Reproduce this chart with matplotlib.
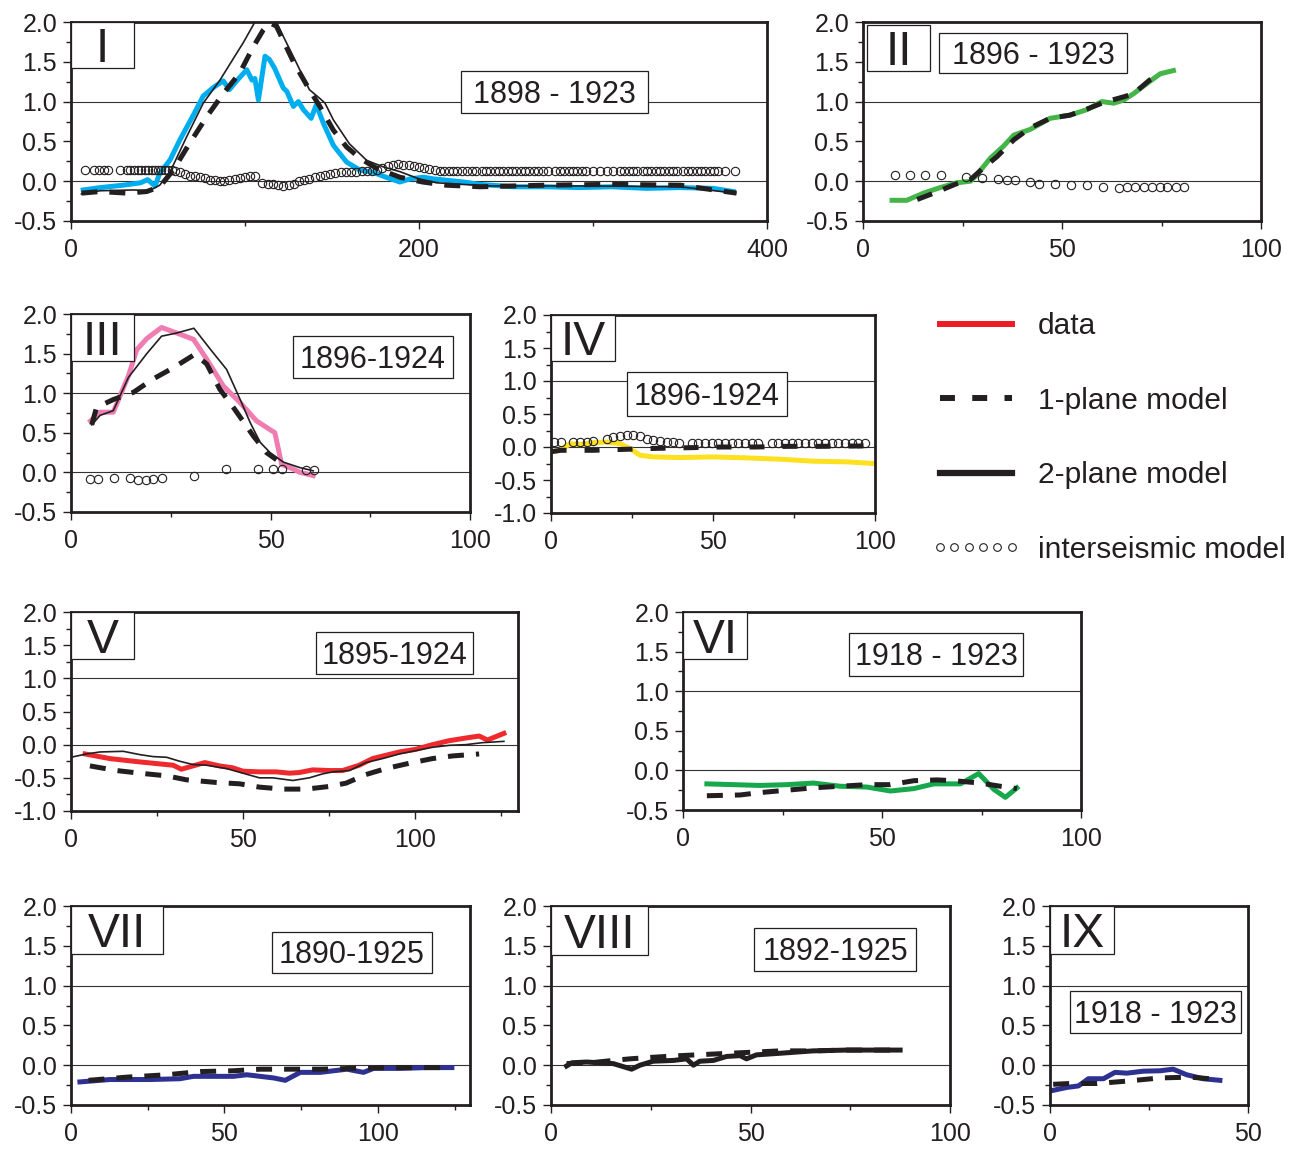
import matplotlib
matplotlib.use("Agg")
import matplotlib.pyplot as plt
from matplotlib.patches import Rectangle
from matplotlib.lines import Line2D
from matplotlib.ticker import MultipleLocator, FormatStrFormatter

# ---- panel I (1898 - 1923) ----
p1_data_x = [7, 17, 30, 40, 44, 48.3, 51, 57, 62.6, 70.3, 76, 82, 87.5, 91, 96, 101, 104, 105.7,
             107.7, 111.5, 114, 117, 122, 124, 127.8, 130.7, 133.5, 138, 141, 145, 150.8, 158.4,
             166, 173.8, 181, 189, 195, 202.5, 208, 225.5, 235, 254, 273, 292, 311, 331, 350, 369, 380.6]
p1_data_y = [-0.11, -0.08, -0.05, -0.02, 0.02, -0.06, 0.1, 0.27, 0.52, 0.83, 1.07, 1.18, 1.26, 1.15,
             1.28, 1.40, 1.27, 1.29, 1.02, 1.57, 1.53, 1.42, 1.17, 1.13, 0.94, 1.0, 0.9, 0.79, 0.96,
             0.73, 0.45, 0.24, 0.14, 0.11, 0.05, -0.01, 0.03, 0.05, 0.03, -0.01, -0.04, -0.07, -0.07,
             -0.08, -0.07, -0.09, -0.08, -0.09, -0.13]
p1_one_x = [6, 16.7, 32, 43.5, 51, 58.8, 68, 78, 87.5, 97, 104.8, 110.5, 114, 118, 127.8, 137, 143,
            150.8, 158.4, 166, 175.7, 183, 189, 202, 215.6, 235, 273, 311, 350, 382.5]
p1_one_y = [-0.15, -0.13, -0.15, -0.13, -0.07, 0.14, 0.47, 0.81, 1.1, 1.36, 1.69, 1.9, 1.99, 1.95,
            1.5, 1.15, 0.94, 0.64, 0.43, 0.29, 0.16, 0.1, 0.05, -0.01, -0.05, -0.07, -0.05, -0.04,
            -0.05, -0.15]
p1_two_x = [6, 16.7, 36, 45, 51, 57, 66.5, 76, 85.6, 93, 99, 105.7, 111, 115, 118, 122, 129.7, 137,
            143, 146, 150.8, 160, 170, 179.5, 189, 200, 210, 240, 300, 350, 382]
p1_two_y = [-0.16, -0.12, -0.11, -0.12, -0.05, 0.12, 0.56, 0.98, 1.27, 1.53, 1.74, 2.0, 2.15, 2.12,
            2.0, 1.82, 1.48, 1.15, 1.04, 0.98, 0.77, 0.47, 0.26, 0.18, 0.12, 0.03, -0.02, -0.06,
            -0.06, -0.07, -0.15]
p1_int_x = [8, 13, 16, 19, 21.5, 28, 32, 34, 36, 38.5, 40.5, 42.5, 44.5, 46.5, 48.5, 50, 52, 54, 56,
            58, 60, 62.5, 65.5, 68.5, 71, 74, 77, 80, 83, 85.5, 88, 91, 94, 97, 100, 103, 106, 110,
            113, 116, 119, 122, 125, 128, 131, 134, 137, 140, 143, 146, 149, 152, 155, 158, 161, 164,
            167, 170, 173, 176, 179, 182, 185, 188, 191, 194, 197, 200, 203, 206, 209, 212, 214.5,
            217, 219.5, 222, 224.5, 227.5, 230.5, 233, 236, 238.5, 241, 243.5, 246, 248.5, 251, 253.5,
            256, 258.5, 261, 263.5, 266, 268.5, 271, 274, 278, 281, 283.5, 286, 288.5, 291, 293.5,
            296, 300, 304, 308, 311.5, 315.5, 318, 320.5, 323, 325.5, 328.5, 331, 333.5, 336, 338.5,
            341, 343.5, 346, 348.5, 352, 354.5, 357, 359.5, 362, 364.5, 367, 369.5, 372, 376, 381.5]
p1_int_y = [0.14] * 20 + [0.13, 0.11, 0.09, 0.07, 0.06, 0.05, 0.04, 0.02, 0.01, 0.0, 0.0, 0.01,
            0.03, 0.04, 0.05, 0.06, 0.06, -0.02, -0.03, -0.04, -0.05, -0.06, -0.05, -0.03, 0.0,
            0.02, 0.03, 0.05, 0.06, 0.08, 0.09, 0.1, 0.11, 0.12, 0.12, 0.12, 0.13, 0.13, 0.13, 0.14,
            0.16, 0.19, 0.2, 0.21, 0.2, 0.2, 0.19, 0.18, 0.17, 0.15, 0.14] + [0.13] * 62

# ---- panel II (1896 - 1923) ----
p2_data_x = [7.3, 11, 15.2, 19.4, 23.6, 27, 28.6, 32, 35.3, 37.9, 42, 47, 52, 56.3, 60, 63, 65.5,
             68, 71.4, 74.7, 78]
p2_data_y = [-0.24, -0.24, -0.15, -0.08, -0.02, 0.0, 0.08, 0.29, 0.44, 0.58, 0.65, 0.79, 0.83, 0.9,
             1.0, 0.98, 1.02, 1.1, 1.23, 1.35, 1.39]
p2_one_x = [13.6, 17.8, 23.6, 27, 30.3, 33.7, 37.9, 42, 47, 52, 57, 60.5, 65.5, 68, 72, 74.7]
p2_one_y = [-0.23, -0.15, -0.03, 0.02, 0.17, 0.31, 0.52, 0.67, 0.79, 0.83, 0.92, 0.99, 1.06, 1.1,
            1.27, 1.35]
p2_int_x = [8.1, 11.9, 15.7, 19.6, 25.8, 30, 34, 36.2, 38.1, 42, 44.1, 48.3, 52.3, 56.3, 60.3, 64.2,
            66.3, 68.4, 70.5, 72.6, 74.5, 76.5, 78.6, 80.7]
p2_int_y = [0.075, 0.075, 0.08, 0.075, 0.05, 0.04, 0.03, 0.02, 0.01, -0.01, -0.03, -0.04, -0.05,
            -0.05, -0.07, -0.08, -0.075, -0.075, -0.075, -0.075, -0.075, -0.075, -0.075, -0.075]

# ---- panel III (1896-1924) ----
p3_data_x = [4.9, 7.3, 10.6, 14.4, 16.5, 19, 22.7, 26.5, 30.7, 34, 38.2, 42.4, 46.5, 51.1, 52.8,
             54.9, 57.4, 60.7]
p3_data_y = [0.65, 0.76, 0.76, 1.22, 1.55, 1.69, 1.83, 1.76, 1.68, 1.43, 1.09, 0.88, 0.65, 0.5, 0.1,
             0.06, 0.0, -0.04]
p3_two_x = [5.2, 7.3, 10.6, 14.4, 19, 22.7, 26.5, 30.8, 35, 39, 42.4, 44.9, 47.4, 49.9, 53.2, 57.4,
            60.7]
p3_two_y = [0.6, 0.72, 0.78, 1.2, 1.5, 1.72, 1.76, 1.82, 1.55, 1.3, 0.92, 0.63, 0.38, 0.25, 0.13,
            0.06, 0.02]
p3_one_x = [5.2, 6.4, 10.6, 15.6, 20.6, 25.6, 31, 34, 37.3, 40.7, 45.7, 49, 51.5]
p3_one_y = [0.6, 0.82, 0.92, 1.01, 1.18, 1.32, 1.49, 1.37, 1.05, 0.82, 0.46, 0.25, 0.16]
p3_int_x = [4.8, 6.7, 10.8, 14.8, 16.7, 18.7, 20.6, 22.7, 30.8, 38.8, 46.8, 50.7, 52.8, 58.9, 61]
p3_int_y = [-0.08, -0.08, -0.075, -0.07, -0.09, -0.09, -0.08, -0.075, -0.04, 0.04, 0.04, 0.04,
            0.04, 0.03, 0.03]

# ---- panel IV (1896-1924) ----
p4_data_x = [0.2, 2.8, 5.9, 9, 13, 17.2, 21.3, 24.4, 27.5, 31.6, 39.8, 50, 60.4, 70.7, 81, 91.3, 99.5]
p4_data_y = [-0.075, -0.05, 0.05, 0.035, 0.065, 0.075, 0.05, -0.025, -0.125, -0.15, -0.16, -0.15,
             -0.165, -0.185, -0.215, -0.225, -0.25]
p4_one_x = [0.2, 3, 13, 23, 33, 43, 53, 63, 73, 83, 93, 98]
p4_one_y = [-0.07, -0.05, -0.05, -0.035, -0.02, -0.01, 0.0, 0.0, 0.01, 0.01, 0.015, 0.015]
p4_int_x = [0.9, 3.1, 6.9, 9, 11, 13.1, 17.2, 19.2, 21.3, 23.4, 25.4, 27.5, 29.5, 31.6, 33.6, 35.7,
            37.8, 39.6, 43.4, 45.5, 47.5, 49.6, 51.6, 53.7, 55.8, 57.8, 59.9, 61.9, 64, 68.1, 70.2,
            72.2, 74.3, 76.3, 78.4, 80.5, 82.5, 84.6, 86.6, 88.7, 90.7, 92.8, 94.9, 96.9]
p4_int_y = [0.075, 0.075, 0.07, 0.075, 0.075, 0.085, 0.125, 0.15, 0.165, 0.185, 0.175, 0.16, 0.125,
            0.1, 0.085, 0.075, 0.075] + [0.065] * 27

# ---- panel V (1895-1924) ----
p5_data_x = [4.1, 11.3, 20, 29.7, 32.1, 35.5, 38.9, 43.2, 47.1, 50, 54.8, 59.7, 63.5, 66.4, 70.3,
             75.1, 79, 83.8, 87.7, 91.6, 95.5, 100.3, 105.1, 110, 114.8, 118.7, 121.1, 123.5, 125.9]
p5_data_y = [-0.14, -0.21, -0.26, -0.31, -0.37, -0.32, -0.27, -0.32, -0.35, -0.4, -0.41, -0.41,
             -0.43, -0.42, -0.38, -0.39, -0.39, -0.31, -0.21, -0.16, -0.11, -0.07, 0.0, 0.06, 0.1,
             0.13, 0.07, 0.12, 0.17]
p5_two_x = [0, 4.5, 8.4, 15.2, 20, 23.9, 27.8, 31.6, 35.5, 39.4, 45.2, 50, 54.8, 58.7, 64.5, 69.3,
            73.2, 76.1, 81, 85.8, 90.6, 95.5, 100.3, 105.1, 110, 114.8, 119.6, 125.9]
p5_two_y = [-0.19, -0.14, -0.11, -0.1, -0.15, -0.18, -0.19, -0.25, -0.3, -0.31, -0.36, -0.43, -0.5,
            -0.5, -0.54, -0.5, -0.44, -0.41, -0.39, -0.27, -0.21, -0.14, -0.09, -0.04, -0.01, 0.0,
            0.03, 0.05]
p5_one_x = [5.5, 13.2, 20, 27.8, 33.6, 42.3, 49, 54.8, 61.6, 68.4, 75.1, 80, 85.8, 91.6, 98.4, 105.1,
            110.9, 118.7]
p5_one_y = [-0.32, -0.39, -0.43, -0.47, -0.53, -0.57, -0.59, -0.64, -0.67, -0.67, -0.63, -0.58,
            -0.45, -0.36, -0.28, -0.21, -0.17, -0.14]

# ---- panel VI (1918 - 1923) ----
p6_data_x = [6, 12.7, 19.4, 26.1, 32.8, 39.5, 46.2, 52.1, 58, 63, 69.7, 74.3, 78.1, 81, 83.9]
p6_data_y = [-0.17, -0.18, -0.19, -0.18, -0.16, -0.2, -0.21, -0.26, -0.23, -0.17, -0.17, -0.04,
             -0.24, -0.34, -0.22]
p6_one_x = [6, 14.4, 19.4, 26.1, 32.8, 39.5, 46.2, 52.1, 58, 63.8, 68, 74.7, 79.7, 83.9]
p6_one_y = [-0.32, -0.31, -0.28, -0.25, -0.22, -0.2, -0.18, -0.18, -0.13, -0.12, -0.13, -0.16,
            -0.2, -0.23]

# ---- panel VII (1890-1925) ----
p7_data_x = [2.9, 12.7, 25.8, 35.5, 39.9, 48.6, 52.9, 57.3, 61.6, 66, 69.8, 74.7, 81.2, 89.9, 95.3,
             98.6, 107.3, 116, 124.1]
p7_data_y = [-0.21, -0.18, -0.18, -0.17, -0.14, -0.14, -0.14, -0.12, -0.14, -0.16, -0.19, -0.09,
             -0.09, -0.05, -0.09, -0.04, -0.04, -0.03, -0.03]
p7_one_x = [5.7, 18.2, 31.2, 42.1, 52.9, 61.6, 71.4, 81.2, 92, 103, 113.8, 123.6]
p7_one_y = [-0.19, -0.15, -0.12, -0.08, -0.07, -0.05, -0.05, -0.05, -0.04, -0.03, -0.03, -0.03]

# ---- panel VIII (1892-1925) ----
p8_data_x = [3.9, 5.2, 8.9, 15.6, 20.2, 22.3, 25.6, 30.7, 34, 35.7, 37.3, 40.7, 44, 47.4, 49, 51.5,
             57.4, 65.7, 74.1, 87.5]
p8_data_y = [-0.01, 0.03, 0.04, 0.02, -0.05, 0.0, 0.05, 0.06, 0.08, 0.0, 0.05, 0.06, 0.11, 0.12,
             0.08, 0.13, 0.15, 0.18, 0.19, 0.19]
p8_one_x = [3.9, 9.8, 15.6, 19.8, 25.6, 32.3, 40.7, 49, 57.4, 65.7, 74.1, 87.5]
p8_one_y = [0.02, 0.03, 0.06, 0.08, 0.1, 0.12, 0.14, 0.16, 0.18, 0.18, 0.19, 0.19]

# ---- panel IX (1918 - 1923) ----
p9_data_x = [0.4, 4.2, 7.2, 9.7, 13.5, 16.4, 19.4, 23.6, 27.8, 31.1, 34.5, 38.7, 42.9]
p9_data_y = [-0.32, -0.28, -0.26, -0.17, -0.17, -0.09, -0.1, -0.075, -0.07, -0.05, -0.12, -0.17, -0.19]
p9_one_x = [0.8, 5, 11.8, 19.4, 27.8, 35.4, 40.4]
p9_one_y = [-0.24, -0.23, -0.23, -0.2, -0.16, -0.15, -0.17]

legend_labels = ["data", "1-plane model", "2-plane model", "interseismic model"]

W, H, DPI = 1301, 1149, 100
INK = "#231F20"
TICK_FS = 18
LW = 3.6

plt.rcParams["font.family"] = ["Liberation Sans", "DejaVu Sans"]
plt.rcParams["axes.unicode_minus"] = False

fig = plt.figure(figsize=(W / DPI, H / DPI), dpi=DPI)


def panel(box, xlim, ylim, xmajor, xminor):
    l, t, r, b = box
    ax = fig.add_axes([l / W, 1 - b / H, (r - l) / W, (b - t) / H])
    ax.set_xlim(*xlim)
    ax.set_ylim(*ylim)
    ax.xaxis.set_major_locator(MultipleLocator(xmajor))
    ax.xaxis.set_minor_locator(MultipleLocator(xminor))
    ax.yaxis.set_major_locator(MultipleLocator(0.5))
    ax.yaxis.set_minor_locator(MultipleLocator(0.25))
    ax.yaxis.set_major_formatter(FormatStrFormatter("%.1f"))
    ax.tick_params(which="major", direction="out", length=6, width=1.0, color=INK,
                   labelsize=TICK_FS, labelcolor=INK, pad=4)
    ax.tick_params(axis="x", which="major", pad=6)
    ax.tick_params(which="minor", direction="out", length=3.5, width=1.0, color=INK)
    for s in ax.spines.values():
        s.set_linewidth(2.0)
        s.set_color(INK)
    ax.axhline(0, color="#333333", lw=0.8, zorder=1)
    ax.axhline(1, color="#333333", lw=0.8, zorder=1)
    return ax


def data_line(ax, x, y, color):
    ax.plot(x, y, color=color, lw=LW, zorder=2, solid_joinstyle="round")


def two_plane(ax, x, y):
    ax.plot(x, y, color=INK, lw=1.2, zorder=3)


def one_plane(ax, x, y, dashes=(3.2, 2.4)):
    ax.plot(x, y, color=INK, lw=LW, dashes=dashes, zorder=4)


def interseismic(ax, x, y):
    ax.plot(x, y, ls="none", marker="o", ms=6, mfc="none", mec=INK, mew=0.8, zorder=5)


def label_box(x0, y0, x1, y1, text, size):
    fig.add_artist(Rectangle((x0 / W, 1 - y1 / H), (x1 - x0) / W, (y1 - y0) / H,
                             transform=fig.transFigure, facecolor="white",
                             edgecolor=INK, lw=0.9, zorder=5))
    cap = 0.716 * size * DPI / 72
    yb = (y0 + y1) / 2 + cap / 2
    fig.text((x0 + x1) / 2 / W, 1 - yb / H, text, ha="center", va="baseline",
             fontsize=size, color=INK, zorder=6)


ROMAN_FS = 34.5
YEAR_FS = 22

# I
ax = panel((71, 22, 767, 221), (0, 400), (-0.5, 2.0), 200, 100)
interseismic(ax, p1_int_x, p1_int_y)
two_plane(ax, p1_two_x, p1_two_y)
data_line(ax, p1_data_x, p1_data_y, "#00AEEF")
one_plane(ax, p1_one_x, p1_one_y)
label_box(71, 22, 134, 68, "I", ROMAN_FS)
label_box(461, 71, 648, 113, "1898 - 1923", YEAR_FS)

# II
ax = panel((863, 22, 1261, 221), (0, 100), (-0.5, 2.0), 50, 25)
interseismic(ax, p2_int_x, p2_int_y)
data_line(ax, p2_data_x, p2_data_y, "#46B549")
one_plane(ax, p2_one_x, p2_one_y)
label_box(867, 25, 930, 71, "II", ROMAN_FS)
label_box(939, 33, 1127, 73, "1896 - 1923", YEAR_FS)

# III
ax = panel((71, 314, 470, 512), (0, 100), (-0.5, 2.0), 50, 25)
interseismic(ax, p3_int_x, p3_int_y)
data_line(ax, p3_data_x, p3_data_y, "#F07DB1")
two_plane(ax, p3_two_x, p3_two_y)
one_plane(ax, p3_one_x, p3_one_y)
label_box(71, 314, 134, 361, "III", ROMAN_FS)
label_box(293, 336, 453, 378, "1896-1924", YEAR_FS)

# IV
ax = panel((551, 315, 875, 513), (0, 100), (-1.0, 2.0), 50, 25)
interseismic(ax, p4_int_x, p4_int_y)
data_line(ax, p4_data_x, p4_data_y, "#FDE120")
one_plane(ax, p4_one_x, p4_one_y, dashes=(3.0, 3.6))
label_box(551, 315, 615, 361, "IV", ROMAN_FS)
label_box(627, 372, 787, 416, "1896-1924", YEAR_FS)

# V
ax = panel((71, 612, 518, 811), (0, 130), (-1.0, 2.0), 50, 25)
two_plane(ax, p5_two_x, p5_two_y)
data_line(ax, p5_data_x, p5_data_y, "#EE2A2E")
one_plane(ax, p5_one_x, p5_one_y)
label_box(71, 612, 134, 659, "V", ROMAN_FS)
label_box(316, 632, 473, 674, "1895-1924", YEAR_FS)

# VI
ax = panel((683, 612, 1081, 810), (0, 100), (-0.5, 2.0), 50, 25)
data_line(ax, p6_data_x, p6_data_y, "#16A84B")
one_plane(ax, p6_one_x, p6_one_y)
label_box(683, 612, 747, 659, "VI", ROMAN_FS)
label_box(849, 633, 1023, 676, "1918 - 1923", YEAR_FS)

# VII
ax = panel((71, 906, 470, 1105), (0, 130), (-0.5, 2.0), 50, 25)
data_line(ax, p7_data_x, p7_data_y, "#2E3192")
one_plane(ax, p7_one_x, p7_one_y)
label_box(71, 906, 163, 954, "VII", ROMAN_FS)
label_box(272, 932, 432, 973, "1890-1925", YEAR_FS)

# VIII
ax = panel((551, 906, 950, 1105), (0, 100), (-0.5, 2.0), 50, 25)
data_line(ax, p8_data_x, p8_data_y, INK)
one_plane(ax, p8_one_x, p8_one_y)
label_box(551, 906, 648, 955, "VIII", ROMAN_FS)
label_box(754, 928, 916, 971, "1892-1925", YEAR_FS)

# IX
ax = panel((1050, 906, 1248, 1105), (0, 50), (-0.5, 2.0), 50, 25)
data_line(ax, p9_data_x, p9_data_y, "#2E3192")
one_plane(ax, p9_one_x, p9_one_y)
label_box(1050, 906, 1114, 954, "IX", ROMAN_FS)
label_box(1070, 991, 1241, 1033, "1918 - 1923", YEAR_FS)

# legend
handles = [
    Line2D([], [], color="#ED1C24", lw=4.3),
    Line2D([], [], color=INK, lw=4.3, dashes=(2.5, 2.9)),
    Line2D([], [], color=INK, lw=4.5),
    Line2D([], [], ls="none", marker="o", ms=5.5, mfc="none", mec=INK, mew=0.8),
]
fig.legend(handles, legend_labels, loc="upper left",
           bbox_to_anchor=(931 / W, 1 - 312 / H), frameon=False, fontsize=21.5,
           labelcolor=INK, handlelength=3.0, handletextpad=0.58, labelspacing=1.56,
           numpoints=6, borderpad=0, borderaxespad=0)

fig.savefig("out.png", dpi=DPI)
